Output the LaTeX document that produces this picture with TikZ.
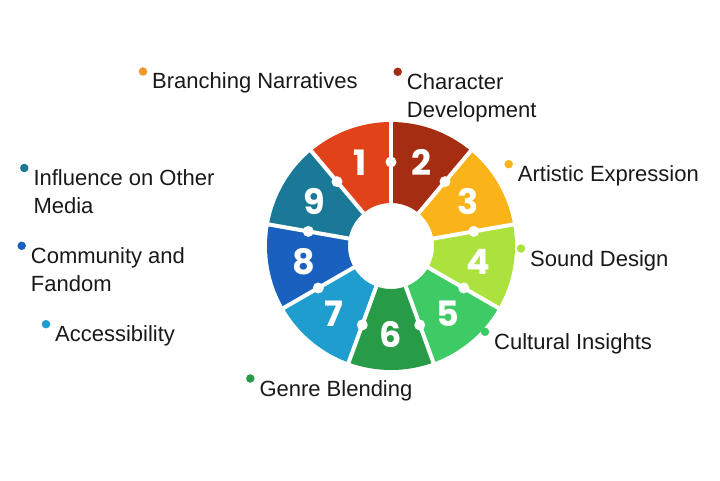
\documentclass[tikz,border=0pt]{standalone}
\usepackage{fontspec}
\setmainfont{Liberation Sans}
\newfontfamily\digitfont{Poppins}
\usetikzlibrary{calc,positioning}

\definecolor{segA}{RGB}{226,66,26}
\definecolor{segB}{RGB}{165,45,18}
\definecolor{segC}{RGB}{250,180,25}
\definecolor{segD}{RGB}{172,226,62}
\definecolor{segE}{RGB}{62,202,100}
\definecolor{segF}{RGB}{40,155,70}
\definecolor{segG}{RGB}{30,157,206}
\definecolor{segH}{RGB}{26,96,190}
\definecolor{segI}{RGB}{27,121,152}
\definecolor{dotA}{RGB}{240,152,42}

\begin{document}
\begin{tikzpicture}[x=1pt, y=1pt,
    labeltext/.style={anchor=base west, inner sep=0pt, align=left, text=black!90,
        font=\fontsize{22}{28.5}\selectfont},
    bullet/.style={circle, inner sep=0pt, minimum size=8.5pt},
    numeral/.style={inner sep=0pt, text=white, font=\digitfont\bfseries\fontsize{35}{35}\selectfont},
    joint/.style={circle, fill=white, inner sep=0pt, minimum size=11pt}]

    \useasboundingbox (0,0) rectangle (720,480);
    \coordinate (hub) at (391,234);

    % ring
    \foreach \n/\col in {1/segA, 2/segB, 3/segC, 4/segD, 5/segE, 6/segF, 7/segG, 8/segH, 9/segI} {
        \pgfmathsetmacro{\s}{130-40*\n}
        \pgfmathsetmacro{\e}{\s+40}
        \fill[\col] ($(hub)+(\s:43)$) arc[start angle=\s, end angle=\e, radius=43]
            -- ($(hub)+(\e:124)$) arc[start angle=\e, end angle=\s, radius=124] -- cycle;
        \node[numeral] (num\n) at ($(hub)+(\s+20:89)$) {\n};
    }
    \foreach \n in {1,...,9} {
        \draw[white, line width=4pt] ($(hub)+(130-40*\n:40)$) -- ($(hub)+(130-40*\n:127)$);
        \node[joint] (joint\n) at ($(hub)+(130-40*\n:84)$) {};
    }

    % labels (base = last line)
    \node[labeltext] (branching) at (152,391) {Branching Narratives};
    \node[labeltext] (character) at (406.7,362.2) {Character\\Development};
    \node[labeltext] (artistic) at (517.7,298.3) {Artistic Expression};
    \node[labeltext] (sound) at (530,214) {Sound Design};
    \node[labeltext] (cultural) at (494,130.7) {Cultural Insights};
    \node[labeltext] (genre) at (259.3,84) {Genre Blending};
    \node[labeltext] (access) at (55,138.3) {Accessibility};
    \node[labeltext] (community) at (30.7,188.2) {Community and\\Fandom};
    \node[labeltext] (influence) at (33.3,266) {Influence on Other\\Media};

    \foreach \lbl/\col/\up in {branching/dotA/17.5, character/segB/46, artistic/segC/17.5,
                               sound/segD/17.5, cultural/segE/17.5, genre/segF/17.5,
                               access/segG/17.5, community/segH/46, influence/segI/46}
        \node[bullet, fill=\col] (\lbl dot) at ($(\lbl.base west)+(-9,\up)$) {};

\end{tikzpicture}
\end{document}
